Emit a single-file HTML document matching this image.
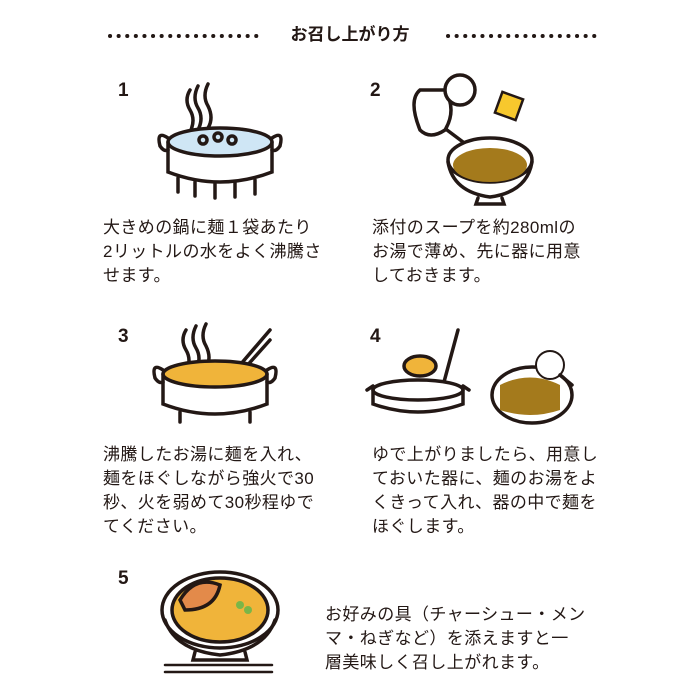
<!DOCTYPE html>
<html><head><meta charset="utf-8"><style>
body{margin:0;width:700px;height:700px;background:#fff;position:relative;overflow:hidden;font-family:"Liberation Sans","Noto Sans CJK JP",sans-serif;color:#231815}
.t{position:absolute;font-size:17px;line-height:24px;white-space:nowrap;letter-spacing:0.4px}
.n{position:absolute;font-size:19px;font-weight:bold}
.h{position:absolute;top:20px;left:0;width:700px;text-align:center;font-size:17px;font-weight:bold}
svg{position:absolute;left:0;top:0}
</style></head><body>
<div class="h">お召し上がり方</div>
<svg width="700" height="700" fill="none" stroke="#231815" stroke-width="3.5" stroke-linecap="round">
<line x1="110" y1="36" x2="258" y2="36" stroke-dasharray="0.1 8.5" stroke-width="4"/>
<line x1="448" y1="36" x2="596" y2="36" stroke-dasharray="0.1 8.5" stroke-width="4"/>
<path d="M190 90q-6 10 0 20q6 10 0 22M198 86q-6 12 0 22q6 10 0 22M208 84q-6 12 0 22q6 12 0 22"/>
<ellipse cx="220" cy="142" rx="52" ry="14" fill="#cfe6f5"/>
<path d="M168 142v30q52 20 104 0v-30"/>
<path d="M168 138q-12 -8 -8 8q4 6 8 4M272 138q12 -8 8 8q-4 6 -8 4"/>
<path d="M178 178v14M195 182v14M215 184v14M235 183v14M255 180v14"/>
<circle cx="203" cy="140" r="4"/><circle cx="218" cy="137" r="4"/><circle cx="232" cy="140" r="4"/>
<path d="M420 90q-12 10 0 40q10 10 25 0q12 -20 0 -40z" fill="#fff"/>
<circle cx="460" cy="90" r="15" fill="#fff"/>
<path d="M447 130l20 15"/>
<rect x="498" y="95" width="22" height="22" transform="rotate(20 509 106)" fill="#f7c82d" stroke-width="2.5"/>
<ellipse cx="490" cy="160" rx="42" ry="22" fill="#fff"/>
<ellipse cx="490" cy="165" rx="37" ry="17" fill="#a47a1c" stroke="none"/>
<path d="M448 162q5 30 42 35q37 -5 42 -35M478 198l-2 6h28l-2 -6"/>
<path d="M186 330q-6 10 0 20q6 10 0 22M196 326q-6 12 0 22q6 10 0 22M206 324q-6 12 0 22q6 12 0 22"/>
<path d="M240 365l30 -35M245 368l25 -28"/>
<ellipse cx="215" cy="374" rx="52" ry="13" fill="#f0b43a"/>
<path d="M163 374v30q52 20 104 0v-30"/>
<path d="M163 370q-12 -8 -8 8q4 6 8 4M267 370q12 -8 8 8q-4 6 -8 4"/>
<path d="M180 412v10M250 412v10"/>
<path d="M458 330l-14 52"/>
<ellipse cx="420" cy="366" rx="16" ry="10" fill="#f0b43a"/>
<ellipse cx="418" cy="390" rx="45" ry="10" fill="#fff"/>
<path d="M373 390v14q45 16 90 0v-14M373 386l-6 4M463 386l6 4"/>
<ellipse cx="532" cy="395" rx="40" ry="28" fill="#fff"/>
<path d="M500 385q30 -15 60 0v25q-30 10 -60 0z" fill="#a47a1c" stroke="none"/>
<circle cx="550" cy="365" r="14" fill="#fff" stroke-width="2"/>
<path d="M560 375l12 10"/>
<ellipse cx="220" cy="610" rx="58" ry="38" fill="#fff"/>
<ellipse cx="220" cy="610" rx="48" ry="32" fill="#f0b43a"/>
<path d="M180 600q15 -25 40 -15q-5 25 -35 25z" fill="#e38a4a"/>
<circle cx="240" cy="605" r="4" fill="#7ab648" stroke="none"/><circle cx="248" cy="610" r="4" fill="#7ab648" stroke="none"/>
<path d="M165 620q10 30 55 35q45 -5 55 -35M195 652l-2 8h54l-2 -8"/>
<path d="M165 665h107M165 672h107" stroke-width="2.5"/>
</svg>
<div class="n" style="left:118px;top:80px">1</div>
<div class="n" style="left:370px;top:80px">2</div>
<div class="n" style="left:118px;top:326px">3</div>
<div class="n" style="left:370px;top:326px">4</div>
<div class="n" style="left:118px;top:568px">5</div>
<div class="t" style="left:103px;top:216px">大きめの鍋に麺１袋あたり<br>2リットルの水をよく沸騰さ<br>せます。</div>
<div class="t" style="left:372px;top:216px">添付のスープを約280mlの<br>お湯で薄め、先に器に用意<br>しておきます。</div>
<div class="t" style="left:103px;top:443px">沸騰したお湯に麺を入れ、<br>麺をほぐしながら強火で30<br>秒、火を弱めて30秒程ゆで<br>てください。</div>
<div class="t" style="left:372px;top:443px">ゆで上がりましたら、用意し<br>ておいた器に、麺のお湯をよ<br>くきって入れ、器の中で麺を<br>ほぐします。</div>
<div class="t" style="left:325px;top:603px">お好みの具（チャーシュー・メン<br>マ・ねぎなど）を添えますと一<br>層美味しく召し上がれます。</div>
</body></html>
